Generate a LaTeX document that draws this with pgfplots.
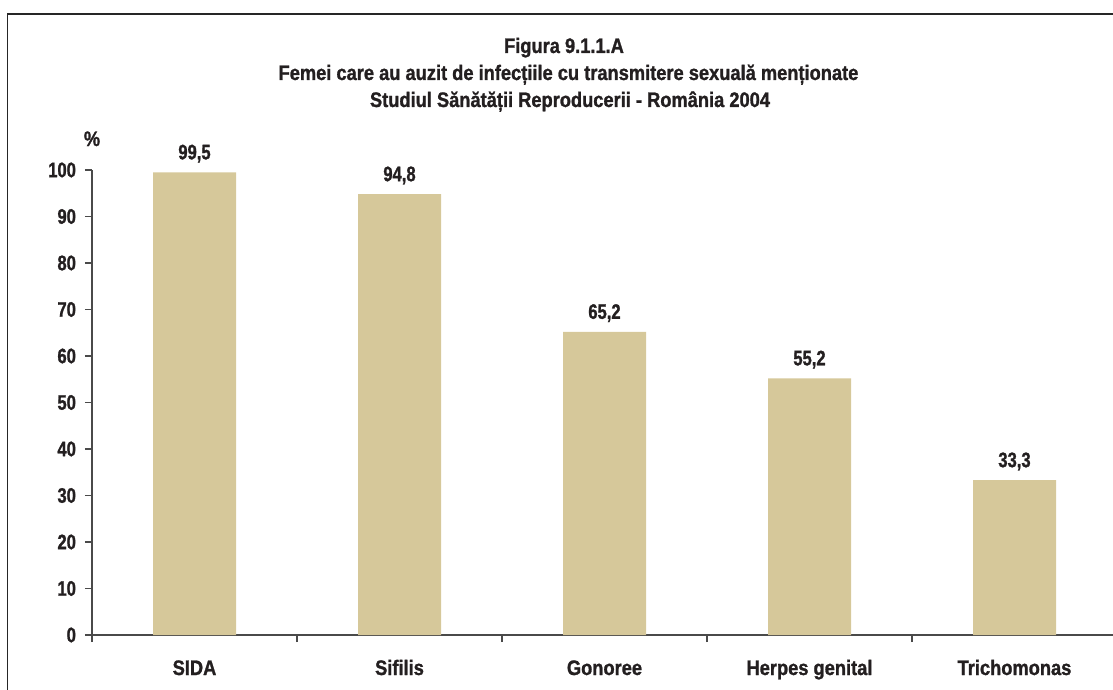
\documentclass[border=0pt]{standalone}
\usepackage{fontspec}
\setmainfont{Liberation Sans}[FakeStretch=0.87, BoldFont={Liberation Sans Bold}, BoldFeatures={FakeBold=1.2}]
\newfontfamily\numfont{Liberation Sans}[FakeStretch=0.79, BoldFont={Liberation Sans Bold}, BoldFeatures={FakeBold=1.2}]
\usepackage{pgfplots}
\pgfplotsset{compat=1.18}
\definecolor{barc}{HTML}{D6C89A}
\definecolor{txt}{HTML}{231F20}
\definecolor{axc}{HTML}{4A4A4A}
\begin{document}
\begin{tikzpicture}[font=\bfseries\fontsize{10.5}{12}\selectfont, text=txt]
\useasboundingbox (0,0) rectangle (556.5pt,-345pt);
\draw[line width=0.75pt, color=black!85] (3.75pt,-350pt) -- (3.75pt,-7pt) -- (560pt,-7pt);
\node[anchor=base] at (282pt,-26.5pt) {Figura 9.1.1.A};
\node[anchor=base] at (284.25pt,-40pt) {Femei care au auzit de infecțiile cu transmitere sexuală menționate};
\node[anchor=base] at (285pt,-53.5pt) {Studiul Sănătății Reproducerii - România 2004};
\begin{axis}[
  at={(46pt,-317.5pt)}, anchor=south west,
  scale only axis, width=512.5pt, height=232.5pt,
  xmin=-0.5, xmax=4.5, ymin=0, ymax=100,
  axis x line*=bottom, axis y line*=left,
  axis line style={axc, line width=0.75pt},
  every tick/.style={axc, line width=0.75pt},
  tick align=outside, major tick length=3.5pt,
  ytick={0,10,...,100},
  xtick={-0.5,0.5,...,4.5},
  x tick label as interval=true,
  xticklabels={SIDA,Sifilis,Gonoree,Herpes genital,Trichomonas},
  tick label style={font=\bfseries\fontsize{10.5}{12}\selectfont, text=txt},
  yticklabel style={font=\numfont\bfseries\fontsize{10.5}{12}\selectfont, /pgf/number format/assume math mode=true, xshift=-1pt},
  xticklabel style={anchor=base, yshift=-16.5pt},
  ybar, bar width=41.5pt,
  clip=false,
]
\addplot[fill=barc, draw=none,
  nodes near coords,
  nodes near coords style={anchor=base, inner sep=0pt, yshift=6.5pt,
    font=\numfont\bfseries\fontsize{10.5}{12}\selectfont, text=txt,
    /pgf/number format/fixed, /pgf/number format/fixed zerofill,
    /pgf/number format/precision=1, /pgf/number format/use comma,
    /pgf/number format/assume math mode=true}]
  coordinates {(0,99.5) (1,94.8) (2,65.2) (3,55.2) (4,33.3)};
\node[anchor=base, yshift=12pt] at (rel axis cs:0,1) {\%};
\end{axis}
\end{tikzpicture}
\end{document}
